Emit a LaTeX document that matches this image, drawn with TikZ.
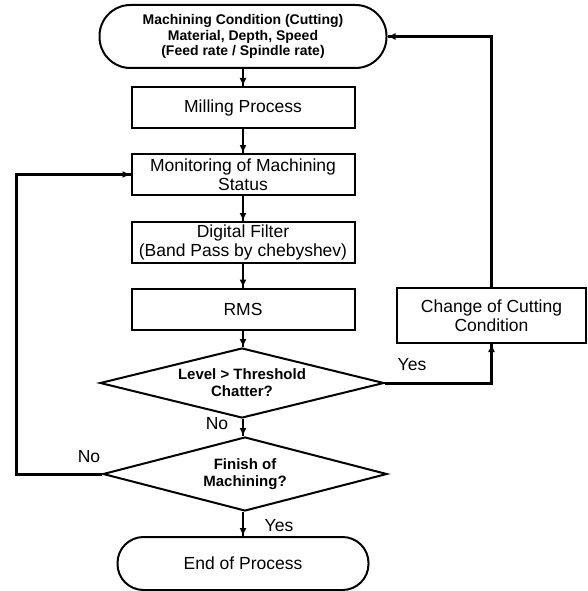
\documentclass[tikz,border=0pt]{standalone}
\usepackage{fontspec}
\setmainfont{Liberation Sans}
\usepackage{tikz}
\usetikzlibrary{arrows.meta}
\usetikzlibrary{decorations.markings}
\usetikzlibrary{shapes.geometric}
\newcommand{\regfont}{\fontsize{17.5}{19.5}\selectfont}
\newcommand{\boldfont}{\fontsize{14}{15.5}\selectfont\bfseries}
\newcommand{\askfont}{\fontsize{15}{17}\selectfont\bfseries}
\tikzset{->/.style = {decoration={markings,
                                  mark=at position 1 with {\arrow{Latex[length=8pt, width=7pt]}}},
                      postaction={decorate}},
         process/.style = {draw, line width=2pt, minimum width=223pt, minimum height=41pt,
                           inner sep=2pt, align=center, font=\regfont},
         terminal/.style = {draw, line width=2pt, align=center, inner sep=2pt},
         decision/.style = {draw, diamond, shape aspect=4, line width=2pt, minimum width=284pt,
                            align=center, inner sep=0pt, font=\askfont},
         flow/.style = {line width=2pt},
         loop/.style = {line width=3pt},
         lbl/.style = {font=\regfont, inner sep=0pt}}

\begin{document}
\begin{tikzpicture}[x=1pt, y=-1pt]
      \useasboundingbox (0, 0) rectangle (587, 591);

      % main column
      \node [terminal, minimum width=287pt, minimum height=63pt, rounded corners=31pt,
             font=\boldfont] (cond) at (243, 36.5)
            {Machining Condition (Cutting)\\Material, Depth, Speed\\(Feed rate / Spindle rate)};
      \node [process] (mill) at (243, 107.5) {Milling Process};
      \node [process] (mon) at (243, 174.5) {Monitoring of Machining\\Status};
      \node [process] (filt) at (243, 242.5) {Digital Filter\\(Band Pass by chebyshev)};
      \node [process] (rms) at (243, 309) {RMS};
      \node [decision, minimum height=70pt] (chat) at (242, 383) {Level > Threshold\\Chatter?};
      \node [decision, minimum height=74pt] (fin) at (245, 474) {Finish of\\Machining?};
      \node [terminal, minimum width=251pt, minimum height=53pt, rounded corners=26pt,
             font=\regfont] (done) at (243, 563.5) {End of Process};

      % side box
      \node [process, minimum width=189pt, minimum height=55pt] (chg) at (491.5, 315.5)
            {Change of Cutting\\Condition};

      \draw [flow, ->] (cond) -- (mill);
      \draw [flow, ->] (mill) -- (mon);
      \draw [flow, ->] (mon) -- (filt);
      \draw [flow, ->] (filt) -- (rms);
      \draw [flow, ->] (rms) -- (rms |- chat.north);
      \draw [flow, ->] (chat.south -| rms) -- (rms |- fin.north);
      \draw [flow, ->] (fin.south -| rms) -- (rms |- done.north);

      \draw [loop, ->] (chat.east) -| (chg.south);
      \draw [loop, ->] (chg.north) |- (cond.east);
      \coordinate (back) at (16, 174.5);
      \draw [loop, ->] (fin.west) -| (back) -- (mon.west);

      \node [lbl] (yes1) at (412, 365) {Yes};
      \node [lbl] (no1) at (217, 424) {No};
      \node [lbl] (no2) at (89, 457) {No};
      \node [lbl] (yes2) at (279, 526) {Yes};
    \end{tikzpicture}
\end{document}
